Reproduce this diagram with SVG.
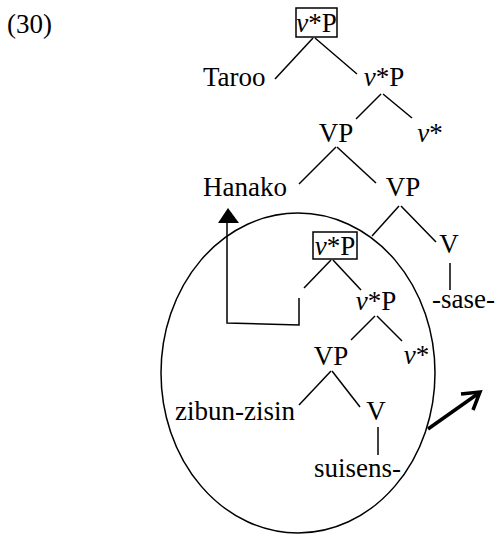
<svg xmlns="http://www.w3.org/2000/svg" width="497" height="535" viewBox="0 0 497 535">
<style>
.t{font-family:'Liberation Serif','DejaVu Serif',serif;font-size:27px;fill:#000}
.m{text-anchor:middle}
.i{font-style:italic}
.s{stroke:#000;stroke-width:1.5;fill:none}
.b{stroke:#000;stroke-width:3.5;fill:none;stroke-linejoin:miter}
</style>
<g class="t" font-family="Liberation Serif, DejaVu Serif, serif">
<text x="7" y="33">(30)</text>
<g id="n1"><rect class="s" x="296" y="8" width="41" height="29"/><text class="m" x="316.5" y="32"><tspan class="i">v</tspan>*P</text></g>
<g id="n2"><text x="203" y="86">Taroo</text></g>
<g id="n3"><text class="m" x="384" y="86"><tspan class="i">v</tspan>*P</text></g>
<g id="n4"><text class="m" x="336" y="142">VP</text></g>
<g id="n5"><text class="m" x="430" y="142"><tspan class="i">v</tspan>*</text></g>
<g id="n6"><text x="203" y="196">Hanako</text></g>
<g id="n7"><text class="m" x="403" y="196">VP</text></g>
<g id="n8"><rect class="s" x="313" y="232" width="44" height="27"/><text class="m" x="335" y="255"><tspan class="i">v</tspan>*P</text></g>
<g id="n9"><text class="m" x="449" y="253">V</text></g>
<g id="n10"><text x="432" y="308">-sase-</text></g>
<g id="n11"><text class="m" x="376" y="310"><tspan class="i">v</tspan>*P</text></g>
<g id="n12"><text class="m" x="331" y="365">VP</text></g>
<g id="n13"><text class="m" x="416.5" y="364"><tspan class="i">v</tspan>*</text></g>
<g id="n14"><text x="175" y="420">zibun-zisin</text></g>
<g id="n15"><text class="m" x="376" y="420">V</text></g>
<g id="n16"><text x="314" y="477">suisens-</text></g>
</g>
<ellipse class="s" cx="298" cy="373" rx="137" ry="160"/>
<g id="connectors">
<line class="s" x1="275" y1="79" x2="313" y2="38"/>
<line class="s" x1="315" y1="38" x2="357" y2="74"/>
<line class="s" x1="356" y1="119" x2="381" y2="94"/>
<line class="s" x1="383" y1="94" x2="412" y2="118"/>
<line class="s" x1="336" y1="147" x2="299" y2="184"/>
<line class="s" x1="337" y1="147" x2="376" y2="183"/>
<line class="s" x1="399" y1="206" x2="372" y2="236"/>
<line class="s" x1="401" y1="206" x2="436" y2="242"/>
<line class="s" x1="450" y1="263" x2="450" y2="290"/>
<line class="s" x1="331" y1="260" x2="304" y2="288"/>
<line class="s" x1="333" y1="260" x2="361" y2="290"/>
<line class="s" x1="375" y1="316" x2="351" y2="340"/>
<line class="s" x1="377" y1="316" x2="402" y2="341"/>
<line class="s" x1="331" y1="371" x2="299" y2="405"/>
<line class="s" x1="332" y1="371" x2="360" y2="407"/>
<line class="s" x1="378" y1="427" x2="378" y2="455"/>
<polyline class="s" points="299,298 299,325 227,323 227,220"/>
<polygon points="228,208 218,223 239,223" fill="#000"/>
<line class="b" x1="428" y1="429" x2="479" y2="393"/>
<polyline class="b" points="461,394 480,392 473,410"/>
</g>
</svg>
